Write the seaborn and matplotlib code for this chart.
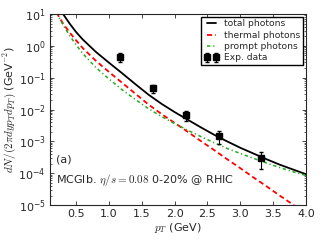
import numpy as np
import pandas as pd
import matplotlib
matplotlib.use("Agg")
import matplotlib.pyplot as plt
import seaborn as sns


# transverse momentum grid (GeV)
pt_curve = [0.2, 0.25, 0.3, 0.4, 0.5, 0.6, 0.8, 1.0, 1.2, 1.4, 1.6, 1.8,
            2.0, 2.2, 2.4, 2.6, 2.8, 3.0, 3.2, 3.4, 3.6, 3.8, 4.0]

# log10 of yields
log_total = [1.35, 1.17, 1.0, 0.7, 0.43, 0.2, -0.19, -0.53, -0.86, -1.2,
             -1.53, -1.82, -2.08, -2.32, -2.56, -2.79, -3.0, -3.2, -3.38,
             -3.56, -3.73, -3.88, -4.03]
log_thermal = [1.05, 0.87, 0.7, 0.42, 0.17, -0.07, -0.47, -0.82, -1.16,
               -1.5, -1.84, -2.14, -2.42, -2.7, -2.99, -3.27, -3.56, -3.84,
               -4.13, -4.41, -4.7, -4.98, -5.27]
log_prompt = [1.05, 0.85, 0.66, 0.32, 0.03, -0.24, -0.68, -1.04, -1.38, -1.68,
              -1.97, -2.22, -2.44, -2.65, -2.85, -3.04, -3.22, -3.38, -3.53,
              -3.68, -3.82, -3.95, -4.07]

# experimental points
pt_data = [1.17, 1.67, 2.18, 2.67, 3.31]
yield_data = [0.45, 0.047, 0.0066, 0.00145, 0.0003]
yield_err = [0.13, 0.013, 0.0022, 0.0006, 0.00016]


def build_frame():
    """
    Long table of the three model curves.
    """

    frames = []

    for name, values in [
        ("total photons", log_total),
        ("thermal photons", log_thermal),
        ("prompt photons", log_prompt),
    ]:
        frames.append(
            pd.DataFrame({
                "pt": pt_curve,
                "yield": np.power(10.0, values),
                "curve": name,
            })
        )

    return pd.concat(frames, ignore_index=True)


def plot_spectra():
    """
    Save photon spectra plot.
    """

    sns.set_style("ticks")
    plt.rcParams["font.family"] = ["DejaVu Sans"]
    plt.rcParams["mathtext.fontset"] = "cm"
    plt.rcParams["font.size"] = 8

    df = build_frame()

    fig = plt.figure(
        figsize=(3.22, 2.41),
        dpi=100
    )
    ax = fig.add_axes([0.155, 0.149, 0.795, 0.793])

    styles = {
        "total photons": ("black", "-", 1.3),
        "thermal photons": ("red", (0, (2.8, 1.8)), 1.3),
        "prompt photons": ("#22aa22", (0, (2.2, 1.8, 0.8, 1.8)), 1.1),
    }

    for name, (color, ls, lw) in styles.items():
        sns.lineplot(
            data=df[df["curve"] == name],
            x="pt",
            y="yield",
            color=color,
            linestyle=ls,
            linewidth=lw,
            label=name,
            ax=ax
        )

    ax.errorbar(
        pt_data,
        yield_data,
        yerr=yield_err,
        fmt="s",
        color="black",
        markersize=4,
        elinewidth=0.8,
        capsize=1.5,
        label="Exp. data"
    )

    ax.set_yscale("log")
    ax.set_xlim(0.1, 4.0)
    ax.set_ylim(1e-5, 10)
    ax.set_xticks([0.5, 1.0, 1.5, 2.0, 2.5, 3.0, 3.5, 4.0])

    ax.tick_params(
        which="both",
        direction="in",
        top=True,
        right=True,
        labelsize=8,
        pad=3
    )
    ax.tick_params(which="major", length=3, width=0.6)
    ax.tick_params(which="minor", length=1.5, width=0.5)
    for spine in ax.spines.values():
        spine.set_linewidth(0.8)

    ax.set_xlabel(
        "$p_T$ (GeV)",
        fontsize=8,
        labelpad=1
    )
    ax.set_ylabel(
        "$dN/(2\\pi dy p_T dp_T)$ (GeV$^{-2}$)",
        fontsize=8,
        labelpad=0
    )

    ax.text(0.2, 2.2e-4, "(a)", fontsize=8)
    ax.text(0.2, 4.8e-5, "MCGlb. $\\eta/s=0.08$ 0-20% @ RHIC", fontsize=8)

    ax.legend(
        loc="upper right",
        fontsize=6.6,
        frameon=True,
        fancybox=False,
        edgecolor="black",
        framealpha=1,
        numpoints=2,
        borderaxespad=0.3,
        borderpad=0.3,
        labelspacing=0.25,
        handlelength=1.6,
        handletextpad=0.6
    )

    fig.savefig("out.png", dpi=100)
    plt.close(fig)


plot_spectra()
